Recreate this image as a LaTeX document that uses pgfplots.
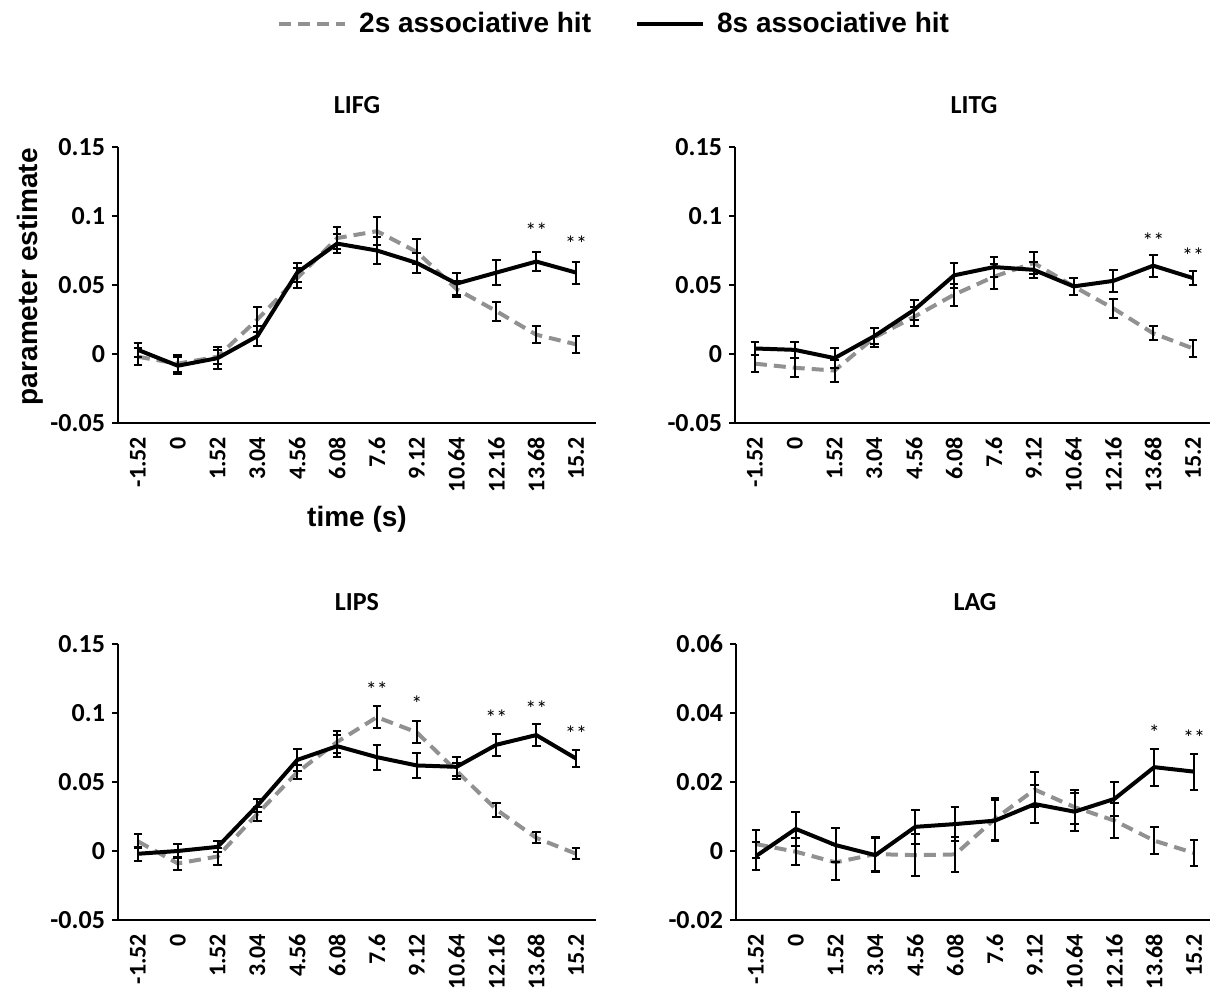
\documentclass[border=0pt]{standalone}
\usepackage{pgfplots}
\usepackage{pgfplotstable}
\usepackage{fontspec}
\pgfplotsset{compat=1.18}
\setmainfont{Carlito}
\newfontfamily\arialfont{Liberation Sans}
\definecolor{gr}{RGB}{145,145,145}

\pgfplotstableread{
x a ea b eb
0 -0.002 0.006 0.003 0.005
1 -0.007 0.006 -0.0085 0.006
2 -0.002 0.005 -0.003 0.008
3 0.025 0.009 0.013 0.007
4 0.055 0.007 0.059 0.007
5 0.084 0.008 0.080 0.007
6 0.089 0.010 0.075 0.010
7 0.074 0.009 0.066 0.007
8 0.047 0.006 0.051 0.008
9 0.031 0.007 0.059 0.009
10 0.014 0.006 0.067 0.007
11 0.007 0.006 0.059 0.008
}\lifg
\pgfplotstableread{
x a ea b eb
0 -0.007 0.006 0.004 0.005
1 -0.010 0.007 0.003 0.006
2 -0.012 0.008 -0.003 0.007
3 0.012 0.007 0.013 0.006
4 0.027 0.007 0.032 0.007
5 0.043 0.008 0.057 0.009
6 0.056 0.009 0.063 0.007
7 0.066 0.008 0.061 0.006
8 0.049 0.006 0.049 0.006
9 0.033 0.007 0.053 0.008
10 0.015 0.005 0.064 0.008
11 0.004 0.006 0.055 0.005
}\litg
\pgfplotstableread{
x a ea b eb
0 0.007 0.005 -0.002 0.005
1 -0.009 0.005 0.000 0.005
2 -0.004 0.006 0.003 0.004
3 0.027 0.005 0.033 0.005
4 0.057 0.005 0.066 0.008
5 0.079 0.008 0.076 0.008
6 0.097 0.008 0.068 0.009
7 0.086 0.008 0.062 0.009
8 0.058 0.006 0.061 0.007
9 0.030 0.005 0.077 0.008
10 0.0095 0.004 0.084 0.008
11 -0.002 0.004 0.067 0.006
}\lips
\pgfplotstableread{
x a ea b eb
0 0.002 0.004 -0.0015 0.004
1 -0.0002 0.004 0.0064 0.005
2 -0.0033 0.005 0.0017 0.005
3 -0.0009 0.005 -0.0012 0.005
4 -0.0012 0.006 0.0070 0.005
5 -0.0010 0.005 0.0078 0.005
6 0.0093 0.006 0.0088 0.006
7 0.0178 0.005 0.0136 0.0055
8 0.0127 0.005 0.0114 0.0055
9 0.0088 0.005 0.0151 0.005
10 0.0030 0.004 0.0243 0.0054
11 -0.0006 0.0037 0.0230 0.0052
}\lag

\pgfplotsset{
  panel/.style={
    scale only axis, width=239pt, height=138pt,
    axis lines=left, axis line style={-, line width=1pt, black},
    xmin=-0.5, xmax=11.5, xtick={0,...,11},
    xticklabels={-1.52,0,1.52,3.04,4.56,6.08,7.6,9.12,10.64,12.16,13.68,15.2},
    xtick style={draw=none},
    tick align=outside, major tick length=3pt,
    ytick style={black, line width=1pt},
    scaled y ticks=false,
    xticklabel shift=0.5pt,
    xticklabel style={rotate=90, anchor=east, font=\bfseries\fontsize{12}{12}\selectfont},
    yticklabel style={font=\bfseries\fontsize{13}{13}\selectfont},
    title style={font=\bfseries\fontsize{13}{13}\selectfont, yshift=7pt},
    clip=false,
  },
  eb/.style={error bars/.cd, y dir=both, y explicit,
    error bar style={black, solid, line width=1pt},
    error mark options={black, solid, line width=1pt, rotate=90, mark size=2.2pt}},
  s2/.style={color=gr, line width=2pt, dash pattern=on 6pt off 3.5pt, mark=none},
  s8/.style={color=black, line width=2pt, solid, mark=none},
}
\newcommand{\st}{\fontsize{11}{11}\selectfont}

\begin{document}
\begin{tikzpicture}
% LIFG
\begin{axis}[panel, at={(59pt,-73.5pt)}, anchor=north west,
  title={LIFG},
  ymin=-0.05, ymax=0.15, ytick={-0.05,0,0.05,0.1,0.15},
  yticklabels={-0.05,0,0.05,0.1,0.15},
  xlabel={time (s)},
  xlabel style={at={(axis description cs:0.5,-0.35)}, anchor=center, font=\arialfont\bfseries\fontsize{14}{14}\selectfont},
  ylabel={parameter estimate},
  ylabel style={at={(axis description cs:-0.184,0.53)}, anchor=center, font=\arialfont\bfseries\fontsize{14}{14}\selectfont},
  legend style={at={(axis description cs:1.04,1.446)}, anchor=center, draw=none,
    legend columns=2, font=\arialfont\bfseries\fontsize{14}{14}\selectfont,
    /tikz/every even column/.append style={column sep=20pt},
    /tikz/every odd column/.append style={column sep=4pt}},
  legend image code/.code={\draw[#1] (0pt,0pt) -- (33pt,0pt);},
]
\addplot[s2, eb] table[x=x, y=a, y error=ea] {\lifg};
\addlegendentry{2s associative hit}
\addplot[s8, eb] table[x=x, y=b, y error=eb] {\lifg};
\addlegendentry{8s associative hit}
\node[font=\st] at (axis cs:10,0.089) {**};
\node[font=\st] at (axis cs:11,0.080) {**};
\end{axis}
% LITG
\begin{axis}[panel, at={(367.5pt,-73.5pt)}, anchor=north west,
  title={LITG},
  ymin=-0.05, ymax=0.15, ytick={-0.05,0,0.05,0.1,0.15},
  yticklabels={-0.05,0,0.05,0.1,0.15},
]
\addplot[s2, eb] table[x=x, y=a, y error=ea] {\litg};
\addplot[s8, eb] table[x=x, y=b, y error=eb] {\litg};
\node[font=\st] at (axis cs:10,0.082) {**};
\node[font=\st] at (axis cs:11,0.071) {**};
\end{axis}
% LIPS
\begin{axis}[panel, at={(59pt,-322pt)}, anchor=north west,
  title={LIPS},
  ymin=-0.05, ymax=0.15, ytick={-0.05,0,0.05,0.1,0.15},
  yticklabels={-0.05,0,0.05,0.1,0.15},
]
\addplot[s2, eb] table[x=x, y=a, y error=ea] {\lips};
\addplot[s8, eb] table[x=x, y=b, y error=eb] {\lips};
\node[font=\st] at (axis cs:6,0.117) {**};
\node[font=\st] at (axis cs:7,0.1066) {*};
\node[font=\st] at (axis cs:9,0.0965) {**};
\node[font=\st] at (axis cs:10,0.103) {**};
\node[font=\st] at (axis cs:11,0.085) {**};
\end{axis}
% LAG
\begin{axis}[panel, at={(368pt,-322pt)}, anchor=north west,
  title={LAG},
  ymin=-0.02, ymax=0.06, ytick={-0.02,0,0.02,0.04,0.06},
  yticklabels={-0.02,0,0.02,0.04,0.06},
]
\addplot[s2, eb] table[x=x, y=a, y error=ea] {\lag};
\addplot[s8, eb] table[x=x, y=b, y error=eb] {\lag};
\node[font=\st] at (axis cs:10,0.0344) {*};
\node[font=\st] at (axis cs:11,0.0327) {**};
\end{axis}
\pgfresetboundingbox
\path[use as bounding box] (0pt,0pt) rectangle (605pt,-495.5pt);
\end{tikzpicture}
\end{document}
